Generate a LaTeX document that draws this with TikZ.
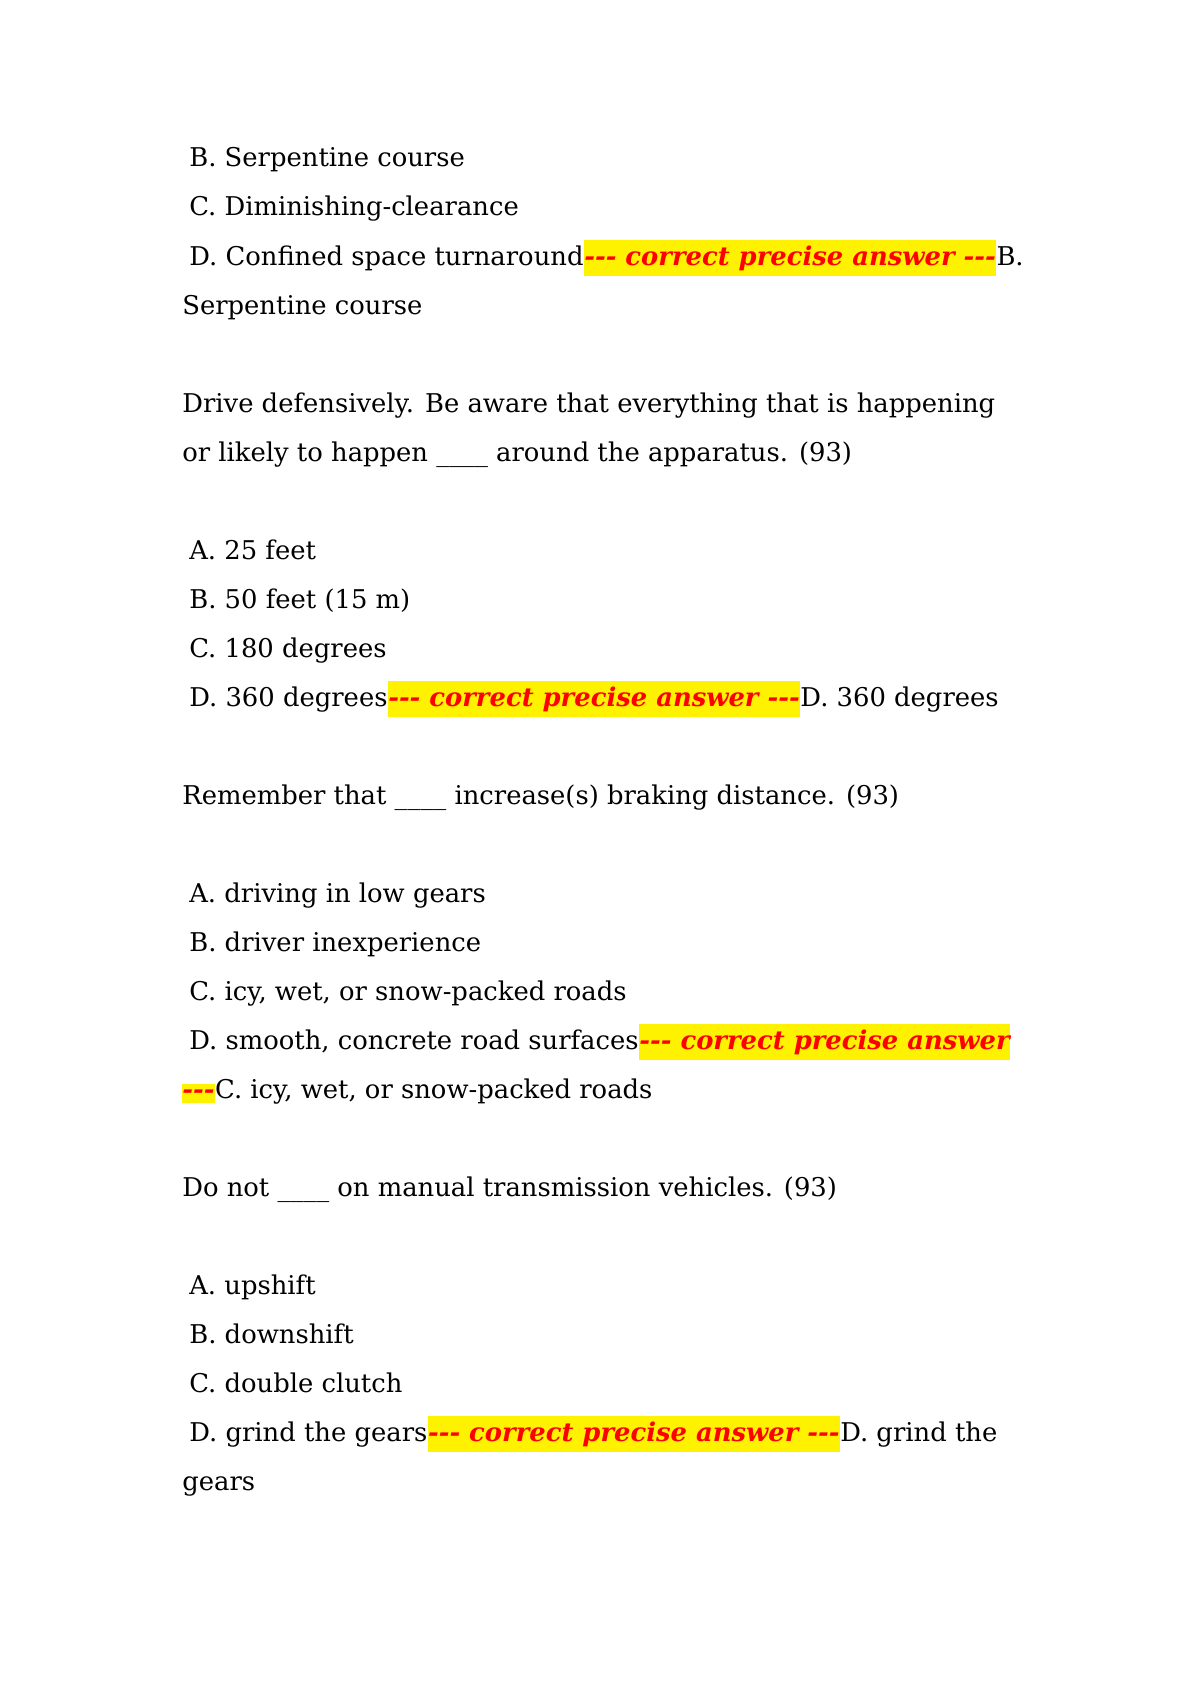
\documentclass[tikz,border=0pt]{standalone}
\usepackage{fontspec}
\setmainfont{DejaVu Serif}
\usetikzlibrary{positioning}

\begin{document}
\begin{tikzpicture}[
		x=0.02cm, y=-0.02cm,
		every node/.style={anchor=base west, inner sep=0pt, font=\fontsize{14.7}{17}\selectfont},
		hl/.style={fill=yellow, text=red, inner xsep=0pt, inner ysep=3pt, font=\fontsize{14.7}{17}\selectfont\bfseries\itshape}
	]
  \useasboundingbox (0,0) rectangle (1191,1684);
  % question 1 (tail)
  \node (q1b) at (189,166) {B. Serpentine course};
  \node (q1c) at (189,215) {C. Diminishing-clearance};
  \node (q1d) at (189,265) {D. Confined space turnaround~};
  \node (q1h) [hl] at (q1d.base east) {-{}-{}- correct precise answer -{}-{}-};
  \node (q1r) at (q1h.base east) {B.};
  \node (q1s) at (182,314) {Serpentine course};
  % question 2
  \node (q2a) at (182,412) {Drive defensively. Be aware that everything that is happening};
  \node (q2b) at (182,461) {or likely to happen \_\_\_\_ around the apparatus. (93)};
  \node (o2a) at (189,559) {A. 25 feet};
  \node (o2b) at (189,608) {B. 50 feet (15 m)};
  \node (o2c) at (189,657) {C. 180 degrees};
  \node (o2d) at (189,706) {D. 360 degrees~};
  \node (o2h) [hl] at (o2d.base east) {-{}-{}- correct precise answer -{}-{}-};
  \node (o2r) at (o2h.base east) {D. 360 degrees};
  % question 3
  \node (q3) at (182,804) {Remember that \_\_\_\_ increase(s) braking distance. (93)};
  \node (o3a) at (189,902) {A. driving in low gears};
  \node (o3b) at (189,951) {B. driver inexperience};
  \node (o3c) at (189,1000) {C. icy, wet, or snow-packed roads};
  \node (o3d) at (189,1049) {D. smooth, concrete road surfaces~};
  \node (o3h) [hl] at (o3d.base east) {-{}-{}- correct precise answer~};
  \node (o3g) [hl] at (182,1098) {-{}-{}-};
  \node (o3r) at (o3g.base east) {C. icy, wet, or snow-packed roads};
  % question 4
  \node (q4) at (182,1196) {Do not \_\_\_\_ on manual transmission vehicles. (93)};
  \node (o4a) at (189,1294) {A. upshift};
  \node (o4b) at (189,1343) {B. downshift};
  \node (o4c) at (189,1392) {C. double clutch};
  \node (o4d) at (189,1441) {D. grind the gears~};
  \node (o4h) [hl] at (o4d.base east) {-{}-{}- correct precise answer -{}-{}-};
  \node (o4r) at (o4h.base east) {D. grind the};
  \node (o4s) at (182,1490) {gears};
\end{tikzpicture}
\end{document}
